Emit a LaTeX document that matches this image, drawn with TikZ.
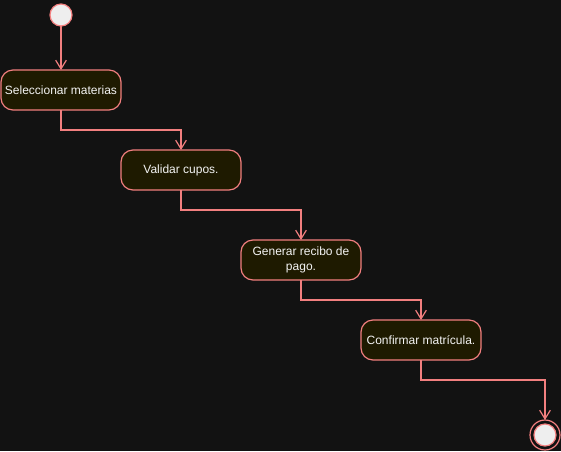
\documentclass[tikz,border=0pt]{standalone}
\usepackage{fontspec}
\setmainfont{Liberation Sans}
\usetikzlibrary{arrows.meta, positioning}

\definecolor{bgdark}{HTML}{121212}
\definecolor{actfill}{HTML}{1E1A00}
\definecolor{actline}{HTML}{F27F7F}
\definecolor{dotfill}{HTML}{EEEEEE}
\definecolor{acttext}{HTML}{F4F4F4}

\begin{document}
\begin{tikzpicture}[
    x=0.75pt, y=-0.75pt,
    node distance=30pt and 0pt,
    act/.style={
        draw=actline,
        fill=actfill,
        line width=0.9pt,
        rectangle,
        rounded corners=9pt,
        align=center,
        text=acttext,
        font=\fontsize{9pt}{11.25pt}\selectfont,
        minimum width=90pt,
        minimum height=30pt,
        inner sep=2pt,
        outer sep=0pt
    },
    dot/.style={
        draw=actline,
        fill=dotfill,
        line width=0.9pt,
        circle,
        inner sep=0pt,
        outer sep=0pt
    },
    arrow/.style={actline, line width=0.9pt, -{Straight Barb[length=6.5pt, width=8pt]}}
]

% Background and size
\fill[bgdark] (0,0) rectangle (561,451);
\useasboundingbox (0,0) rectangle (561,451);

% Start
\node[dot, minimum size=16.5pt] (start) at (61,15) {};

% Activities
\node[act] (sel) at (61,90) {Seleccionar materias};

\node[act] (val) [below right=of sel.south east, anchor=north west] {Validar cupos.};

\node[act] (gen) [below right=37.5pt and 0pt of val.south east, anchor=north west] {%
Generar recibo de\\
pago.
};

\node[act] (conf) [below right=of gen.south east, anchor=north west] {Confirmar matrícula.};

% End
\node[draw=actline, line width=0.9pt, circle, minimum size=22.5pt, inner sep=0pt, outer sep=0pt] (end) at (545,435) {};
\node[dot, minimum size=16.5pt] (endin) at (end) {};

% Arrows
\draw[arrow] (start) -- (sel);
\draw[arrow] (sel.south) -- ++(0,20) -| (val.north);
\draw[arrow] (val.south) -- ++(0,20) -| (gen.north);
\draw[arrow] (gen.south) -- ++(0,20) -| (conf.north);
\draw[arrow] (conf.south) -- ++(0,20) -| (end.north);

\end{tikzpicture}
\end{document}
